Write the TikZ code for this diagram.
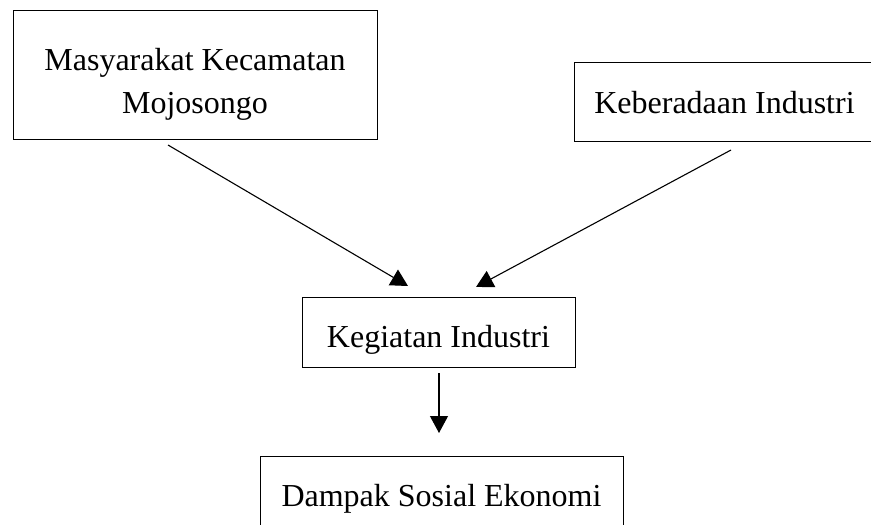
\documentclass[tikz,border=0pt]{standalone}
\usepackage{fontspec}
\setmainfont{Liberation Serif}
\usetikzlibrary{positioning}
\usetikzlibrary{arrows.meta}

\begin{document}
\begin{tikzpicture}[x=1pt, y=-1pt,
  box/.style = {draw, line width=0.9pt, rectangle, inner sep=0pt, font=\fontsize{32}{43}\selectfont},
  arr/.style = {line width=1.1pt, -{Triangle[length=17pt, width=18pt]}}]
\useasboundingbox (0,0) rectangle (871,525);
\clip (0,0) rectangle (871,525);
\node[box, minimum width=364pt, minimum height=129pt, text height=26pt, text depth=35pt] (masyarakat) at (195,74.5)
  {\begin{tabular}[t]{@{}c@{}}Masyarakat Kecamatan\\Mojosongo\end{tabular}};
\node[box, minimum width=320pt, minimum height=79pt, text height=30pt, text depth=7pt] (keberadaan) at (734,101.5) {\hspace*{-19pt}Keberadaan Industri};
\node[box, minimum width=273pt, minimum height=70pt, text height=37pt, text depth=7pt] (kegiatan) at (438.5,332) {Kegiatan Industri};
\node[box, minimum width=363pt, minimum height=84pt, text height=23pt, text depth=7pt] (dampak) at (441.5,498) {Dampak Sosial Ekonomi};
% arrow ends
\coordinate (m1) at (168,145);
\coordinate (k1) at (731,150);
\coordinate (t1) at (408,286);
\coordinate (t2) at (476,287);
\path (m1) edge [arr] (t1);
\path (k1) edge [arr] (t2);
\draw[arr] (kegiatan.south -| 439,0) ++(0,6) -- (439,433);
\end{tikzpicture}
\end{document}
